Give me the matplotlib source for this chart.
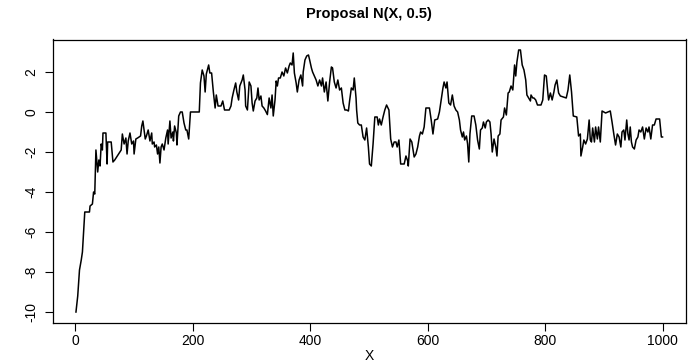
import matplotlib
matplotlib.use("Agg")
import matplotlib.pyplot as plt

plt.rcParams['font.family'] = ['Liberation Sans', 'DejaVu Sans']

# Metropolis chain: iteration index and sampled state
iters = [
    1, 4, 7, 10, 12, 16, 24, 25, 29, 31, 33, 35, 38, 40, 42, 44, 46, 47, 52, 54,
    55, 61, 64, 67, 78, 80, 83, 86, 88, 90, 93, 96, 99, 100, 103, 106, 111, 113, 115, 117,
    119, 121, 124, 127, 130, 131, 134, 135, 138, 140, 142, 144, 146, 148, 151, 154, 157, 158, 161, 163,
    166, 167, 169, 172, 173, 176, 179, 182, 185, 188, 190, 193, 196, 211, 213, 216, 219, 221, 223, 227,
    229, 232, 235, 238, 240, 243, 248, 251, 254, 262, 265, 267, 270, 273, 275, 278, 280, 284, 286, 289,
    290, 293, 296, 299, 301, 303, 306, 309, 311, 313, 316, 318, 321, 324, 327, 330, 333, 335, 337, 340,
    342, 344, 346, 349, 352, 355, 358, 361, 364, 366, 369, 371, 373, 376, 378, 381, 384, 387, 388, 391,
    394, 397, 399, 402, 404, 407, 410, 413, 416, 419, 421, 424, 427, 430, 433, 436, 438, 441, 444, 447,
    450, 453, 456, 459, 462, 465, 467, 470, 473, 475, 478, 479, 481, 484, 487, 490, 493, 496, 499, 501,
    504, 507, 510, 514, 516, 518, 521, 524, 527, 530, 534, 537, 540, 543, 546, 548, 551, 554, 560, 563,
    566, 567, 570, 573, 577, 580, 583, 586, 588, 591, 594, 597, 603, 606, 609, 612, 617, 620, 623, 626,
    628, 631, 633, 636, 639, 642, 645, 648, 651, 654, 656, 659, 661, 663, 666, 668, 670, 672, 675, 679,
    682, 685, 688, 690, 693, 695, 698, 700, 703, 706, 708, 710, 713, 716, 718, 720, 723, 725, 729, 731,
    734, 737, 739, 742, 745, 748, 750, 752, 755, 758, 761, 764, 767, 769, 772, 775, 776, 779, 781, 784,
    787, 793, 796, 799, 802, 805, 806, 809, 812, 815, 817, 820, 823, 826, 836, 839, 842, 845, 848, 854,
    857, 860, 861, 864, 866, 869, 872, 875, 877, 879, 881, 884, 886, 889, 891, 894, 897, 903, 911, 914,
    917, 920, 923, 926, 929, 931, 934, 936, 939, 941, 943, 945, 947, 949, 952, 955, 958, 960, 963, 966,
    969, 972, 975, 977, 980, 983, 986, 989, 995, 998, 1000,
]
chain = [
    -10.0, -9.2, -7.9, -7.4, -7.0, -5.0, -5.0, -4.7, -4.6, -4.0, -4.1, -1.9, -3.0, -2.4, -2.7, -1.6, -1.9, -1.05, -1.05, -2.6,
    -1.5, -1.5, -2.5, -2.4, -1.9, -1.1, -1.6, -1.3, -2.1, -1.45, -1.05, -1.6, -1.45, -2.1, -1.35, -1.3, -1.2, -0.7, -0.45, -0.9,
    -1.35, -1.2, -0.9, -1.45, -1.05, -1.6, -1.5, -1.75, -1.65, -2.1, -1.75, -2.55, -1.75, -1.6, -1.9, -1.3, -0.9, -1.6, -0.45, -1.3,
    -1.0, -1.45, -0.7, -1.05, -1.65, -0.2, 0.0, 0.0, -0.55, -0.9, -0.9, -1.35, 0.0, 0.0, 1.45, 2.1, 1.8, 1.0, 1.9, 2.35,
    1.95, 1.95, 1.0, 0.2, 0.85, 0.3, 0.3, 0.55, 0.1, 0.1, 0.3, 0.7, 1.1, 1.45, 1.0, 0.6, 1.3, 1.6, 1.85, 1.1,
    0.3, 0.1, 1.5, 1.3, 0.45, 0.05, 0.55, 0.7, 1.2, 0.6, 0.8, 0.3, 0.2, 0.05, -0.13, 0.7, 0.2, 0.85, -0.2, 0.6,
    1.55, 1.3, 1.7, 1.7, 2.0, 1.8, 2.2, 1.95, 2.3, 2.45, 2.35, 2.95, 1.95, 1.45, 1.0, 1.6, 1.85, 1.3, 2.0, 2.6,
    2.8, 2.85, 2.6, 2.2, 2.0, 1.8, 1.6, 1.3, 1.6, 1.3, 1.7, 1.0, 1.5, 0.55, 1.5, 2.25, 2.2, 1.5, 1.2, 1.6,
    1.1, 1.2, 0.45, 0.1, 0.1, 0.05, 0.55, 1.2, 1.1, 1.7, 0.7, 0.1, -0.55, -0.65, -0.65, -1.25, -1.4, -0.8, -1.75, -2.6,
    -2.7, -1.6, -0.25, -0.25, -0.65, -0.35, -0.65, -0.25, 0.1, 0.35, 0.1, -1.35, -1.75, -1.5, -1.5, -1.75, -1.4, -2.6, -2.6, -2.2,
    -2.45, -2.7, -1.35, -1.5, -2.25, -2.1, -1.75, -1.2, -1.0, -1.1, -0.75, 0.2, 0.2, -0.4, -1.1, -0.4, -0.35, 0.0, 0.6, 1.2,
    1.5, 1.2, 1.5, 0.45, 0.35, 0.85, 0.3, 0.1, 0.0, -0.4, -0.9, -1.25, -1.0, -1.4, -1.2, -1.6, -2.5, -1.1, -0.2, -0.2,
    -0.65, -1.4, -1.85, -0.9, -0.8, -0.5, -0.8, -0.5, -0.4, -0.5, -1.1, -2.0, -1.35, -1.75, -2.2, -1.2, -1.1, -0.4, -0.25, 0.2,
    -0.15, 0.95, 1.0, 1.3, 1.1, 2.35, 1.8, 2.5, 3.1, 3.1, 2.35, 2.1, 1.6, 0.85, 0.7, 0.55, 0.85, 0.7, 0.7, 0.6,
    0.35, 0.35, 0.6, 1.85, 1.8, 0.85, 0.6, 0.95, 0.6, 1.0, 1.35, 1.6, 0.95, 0.8, 0.7, 1.1, 1.85, 1.0, -0.2, -0.25,
    -1.2, -1.1, -2.2, -1.75, -1.4, -1.6, -1.35, -0.4, -1.4, -1.5, -0.8, -1.5, -0.75, -1.35, -0.75, -1.5, 0.05, -0.05, 0.05, -0.5,
    -1.1, -1.65, -1.1, -1.25, -1.75, -1.0, -0.9, -1.4, -0.4, -1.1, -1.4, -0.75, -1.5, -1.75, -1.85, -1.4, -1.25, -0.9, -1.0, -0.75,
    -1.35, -0.8, -1.0, -0.75, -1.35, -0.65, -0.65, -0.35, -0.35, -1.25, -1.25,
]

x_ticks = [0, 200, 400, 600, 800, 1000]
y_ticks = [-10, -8, -6, -4, -2, 0, 2]

fig = plt.figure(figsize=(6.9, 3.64), dpi=100)
ax = fig.add_axes([52.5 / 690, (364 - 322.5) / 364, (686 - 52.5) / 690, (322.5 - 39.5) / 364])

ax.plot(iters, chain, color='black', lw=1.1)

# R-style 4% padding around the data range
pad_x = 0.04 * (max(iters) - min(iters))
pad_y = 0.04 * (max(chain) - min(chain))
ax.set_xlim(min(iters) - pad_x, max(iters) + pad_x)
ax.set_ylim(min(chain) - pad_y, max(chain) + pad_y)

ax.set_xticks(x_ticks)
ax.set_yticks(y_ticks)
ax.set_yticklabels([str(v) for v in y_ticks], rotation=90, va='center')
ax.tick_params(direction='out', length=6, width=0.8, labelsize=10, pad=2)
ax.tick_params(axis='y', pad=4)
for sp in ax.spines.values():
    sp.set_linewidth(0.9)

ax.set_xlabel('X', fontsize=10, labelpad=1)
fig.text((52.5 + 686) / 2 / 690, 1 - 14 / 364, 'Proposal N(X, 0.5)', ha='center', va='center',
         fontsize=10.5, fontweight='bold')

fig.savefig('out.png', dpi=100)
